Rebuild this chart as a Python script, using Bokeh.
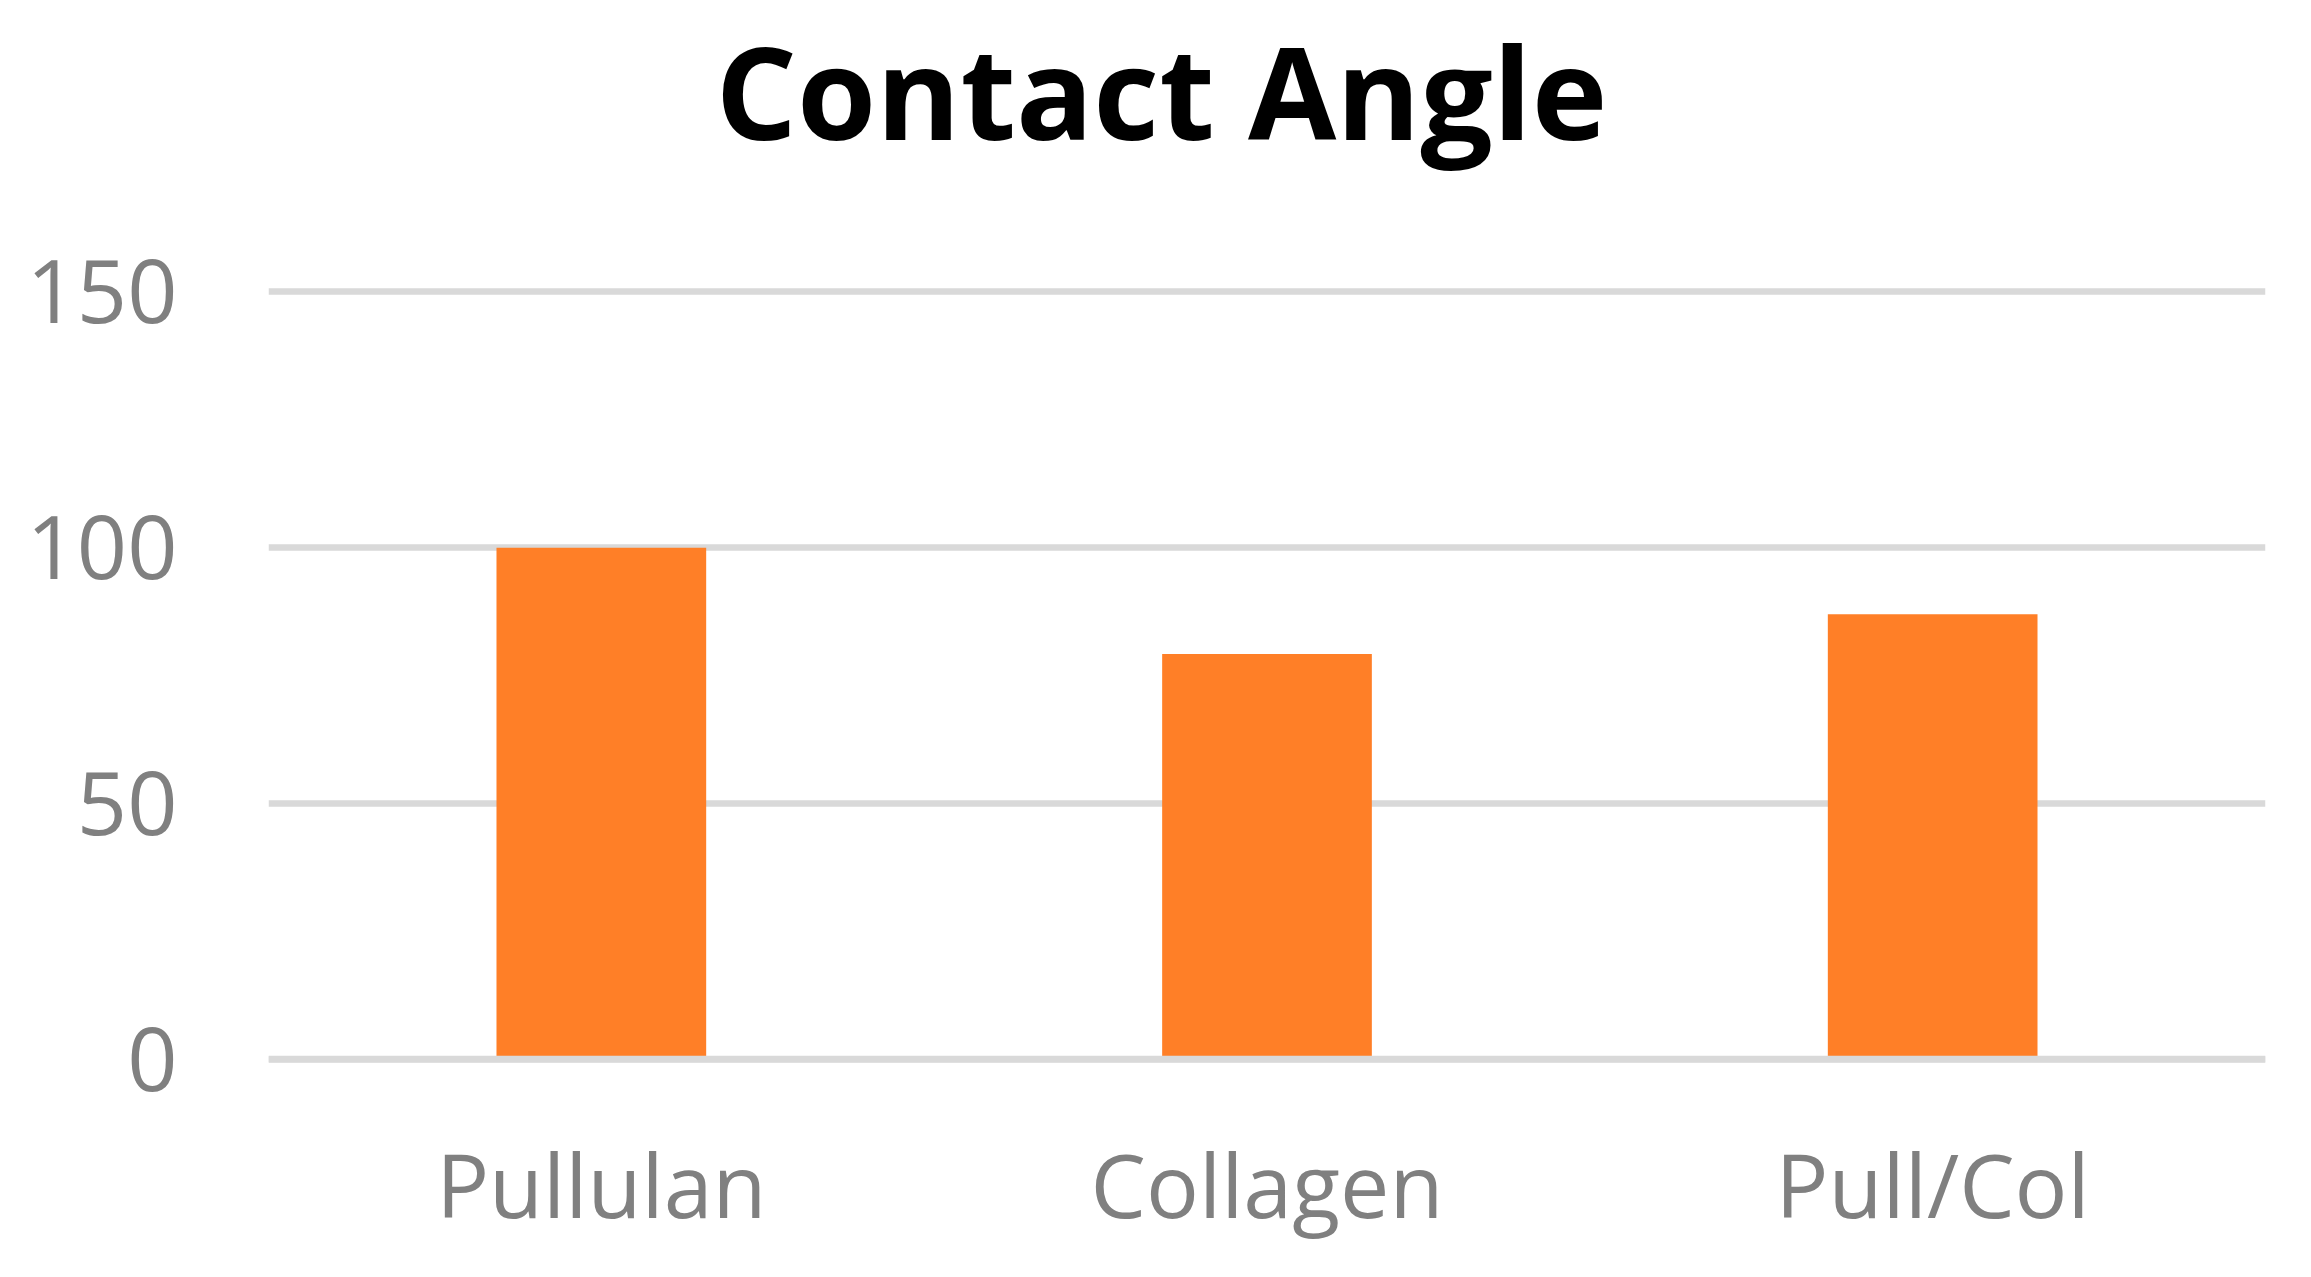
from bokeh.plotting import figure
from bokeh.models import Range1d, FactorRange, FixedTicker, Span, ColumnDataSource, Title
from bokeh.embed import file_html
from bokeh.resources import INLINE

categories = ["Pullulan", "Collagen", "Pull/Col"]
contact_angle = [100, 79.2, 87.0]
y_ticks = [0, 50, 100, 150]
title_text = "Contact Angle"

BAR = "#FF7F27"
GRID = "#D9D9D9"
LABEL = "#808080"
FONT = "Open Sans"

src = ColumnDataSource(dict(cat=categories, val=contact_angle))

p = figure(
    x_range=FactorRange(*categories, range_padding=0),
    y_range=Range1d(-4, 154),
    width=2295, height=1260,
    output_backend="svg", toolbar_location=None,
    min_border_left=268, min_border_right=30,
    min_border_top=270, min_border_bottom=181,
    title=title_text,
)
p.outline_line_color = None
p.background_fill_color = "white"
p.border_fill_color = "white"

p.title.align = "left"
p.title.offset = 447
p.title.standoff = 0
p.title.text_font = FONT
p.title.text_font_style = "bold"
p.title.text_font_size = "128px"
p.title.text_color = "black"

# empty spacer between the chart title and the plot frame
spacer = Title(text=" ", text_font_size="1px", standoff=91)
p.add_layout(spacer, "above")

p.vbar(x="cat", top="val", bottom=0, width=0.315, source=src,
       fill_color=BAR, line_color=None)

p.xgrid.grid_line_color = None
p.ygrid.grid_line_color = GRID
p.ygrid.grid_line_width = 6.5
p.ygrid.ticker = FixedTicker(ticks=y_ticks)

zero = Span(location=0, dimension="width", line_color=GRID, line_width=6.5)
p.add_layout(zero)

p.yaxis.ticker = FixedTicker(ticks=y_ticks)
for ax in (p.xaxis[0], p.yaxis[0]):
    ax.axis_line_color = None
    ax.major_tick_line_color = None
    ax.minor_tick_line_color = None
    ax.major_label_text_font = FONT
    ax.major_label_text_font_size = "88px"
    ax.major_label_text_color = LABEL
p.yaxis.major_label_standoff = 85
p.xaxis.major_label_standoff = 38

open("out.html", "w").write(file_html(p, INLINE))
